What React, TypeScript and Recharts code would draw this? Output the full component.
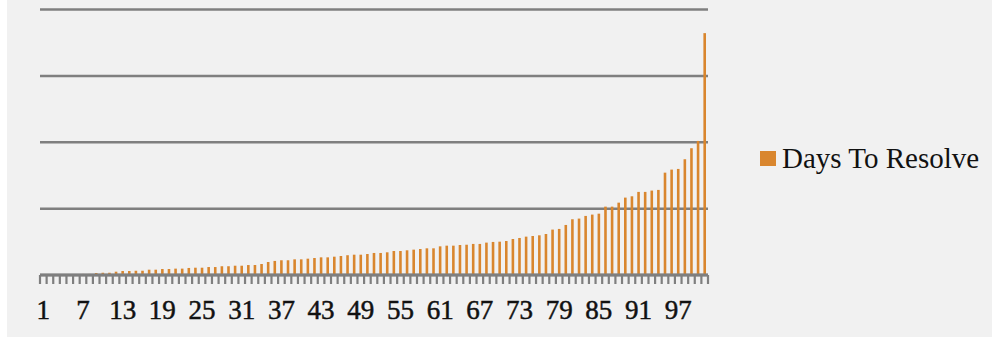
import { BarChart, Bar, XAxis, YAxis, CartesianGrid } from "recharts";

// days taken to resolve each issue, sorted ascending
const daysToResolve = [
  0, 0, 0, 0.3, 0.5, 0.5, 0.8, 0.8, 1.5, 1.7,
  1.7, 2.5, 3.0, 3.0, 3.2, 3.2, 4.0, 4.0, 4.5, 4.5,
  4.8, 4.8, 5.3, 5.5, 5.5, 6.0, 6.0, 6.6, 6.6, 7.0,
  7.0, 7.5, 7.5, 8.3, 9.8, 10.6, 11.1, 11.1, 11.8, 11.8,
  12.3, 12.8, 13.3, 13.3, 13.8, 14.3, 14.9, 15.3, 15.3, 15.8,
  16.6, 16.6, 17.1, 18.1, 18.1, 18.6, 19.1, 19.6, 20.1, 20.1,
  21.6, 22.1, 22.1, 22.6, 22.8, 23.4, 23.4, 24.4, 24.9, 25.1,
  25.6, 27.1, 27.9, 28.9, 29.4, 29.9, 30.9, 34.2, 34.7, 37.7,
  42.0, 42.5, 44.5, 45.5, 46.2, 51.5, 51.5, 54.5, 58.3, 59.3,
  62.6, 62.6, 63.6, 64.1, 77.1, 79.4, 79.9, 87.2, 95.5, 101.0,
  182.2,
];

const issueNumbers = daysToResolve.map((_, i) => i + 1);
const yTicks = [0, 50, 100, 150, 200];
const LABEL_STEP = 6;

const data = issueNumbers.map((n, i) => ({ issue: String(n), days: daysToResolve[i] }));

const WIDTH = 992;
const HEIGHT = 338;
const PLOT_LEFT = 40;
const PLOT_RIGHT = 708;
const BAND = (PLOT_RIGHT - PLOT_LEFT) / data.length;
const GREY = "#7f7f7f";
const ORANGE = "#d9862e";
const FONT = "'Liberation Serif', 'DejaVu Serif', serif";

function IssueTick(props: any) {
  const { x, y, payload } = props;
  const index: number = props.index ?? payload.index ?? 0;
  const half = BAND / 2;
  const isLast = index === data.length - 1;
  return (
    <g>
      <line x1={x - half} x2={x - half} y1={y} y2={y + 9} stroke={GREY} strokeWidth={2.2} />
      {isLast && (
        <line x1={x + half} x2={x + half} y1={y} y2={y + 9} stroke={GREY} strokeWidth={2.2} />
      )}
      {index % LABEL_STEP === 0 && (
        <text
          x={x}
          y={y + 43.5}
          textAnchor="middle"
          fill="#111"
          stroke="#111"
          strokeWidth={0.5}
          fontFamily={FONT}
          fontSize={27}
        >
          {payload.value}
        </text>
      )}
    </g>
  );
}

export default function App() {
  return (
    <div
      style={{
        position: "fixed",
        left: 0,
        top: 0,
        width: WIDTH,
        height: HEIGHT,
        background: "#ffffff",
      }}
    >
      <div
        style={{
          position: "absolute",
          left: 7,
          top: 0,
          width: WIDTH - 7,
          height: HEIGHT - 1,
          background: "#f1f1f1",
        }}
      />
      <div style={{ position: "absolute", left: 0, top: 0 }}>
        <BarChart
          width={WIDTH}
          height={HEIGHT}
          data={data}
          margin={{ top: 9.5, right: WIDTH - PLOT_RIGHT, bottom: 23, left: PLOT_LEFT }}
        >
          <CartesianGrid vertical={false} stroke={GREY} strokeWidth={2.5} />
          <YAxis hide domain={[0, 200]} ticks={yTicks} width={0} />
          <XAxis
            dataKey="issue"
            interval={0}
            height={40}
            tickSize={0}
            tickMargin={0}
            tickLine={false}
            axisLine={{ stroke: GREY, strokeWidth: 3 }}
            tick={<IssueTick />}
          />
          <Bar dataKey="days" fill={ORANGE} barSize={2.6} isAnimationActive={false} />
        </BarChart>
      </div>

      {/* legend */}
      <div
        style={{
          position: "absolute",
          left: 760,
          top: 142,
          display: "flex",
          alignItems: "center",
          fontFamily: FONT,
          fontSize: 29,
          color: "#111",
          whiteSpace: "nowrap",
        }}
      >
        <div style={{ width: 16, height: 15, background: ORANGE, marginRight: 6 }} />
        <span>Days To Resolve</span>
      </div>
    </div>
  );
}
